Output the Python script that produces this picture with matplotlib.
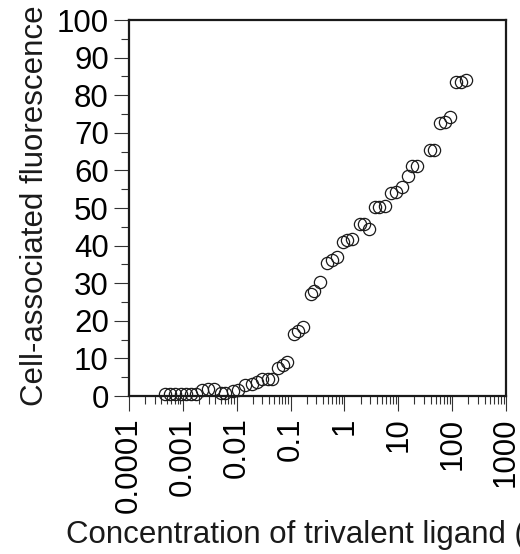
import matplotlib
matplotlib.use("Agg")
import matplotlib.pyplot as plt
from matplotlib.ticker import LogLocator, NullFormatter, MultipleLocator

plt.rcParams['font.family'] = ['Liberation Sans', 'DejaVu Sans']

conc = [4.7e-4, 5.8e-4, 7.1e-4, 9.2e-4, 1.14e-3, 1.41e-3, 1.75e-3, 2.26e-3, 2.92e-3, 3.78e-3,
        5.1e-3, 6.0e-3, 8.5e-3, 1.05e-2, 1.42e-2, 1.91e-2, 2.37e-2, 2.94e-2, 3.79e-2, 4.5e-2,
        5.9e-2, 7.1e-2, 8.65e-2, 0.115, 0.138, 0.171, 0.235, 0.27, 0.35, 0.478,
        0.577, 0.713, 0.946, 1.12, 1.41, 1.93, 2.29, 2.87, 3.66, 4.4,
        5.62, 7.48, 9.26, 11.5, 15.2, 18.3, 22.3, 38.4, 45.6, 58.9,
        72.9, 90.2, 120, 149, 179]
fluor = [0.6, 0.6, 0.6, 0.6, 0.6, 0.6, 0.6, 1.6, 1.8, 1.8,
         0.7, 0.7, 1.4, 1.6, 2.9, 3.2, 3.8, 4.4, 4.4, 4.4,
         7.4, 8.2, 9.1, 16.5, 17.4, 18.4, 27.1, 28.0, 30.4, 35.3,
         36.2, 37.0, 41.0, 41.5, 41.7, 45.7, 45.7, 44.3, 50.3, 50.2,
         50.6, 53.9, 54.3, 55.7, 58.5, 61.2, 61.2, 65.4, 65.4, 72.7,
         73.0, 74.1, 83.6, 83.6, 84.0]
xticks = [0.0001, 0.001, 0.01, 0.1, 1, 10, 100, 1000]
xticklabels = ['0.0001', '0.001', '0.01', '0.1', '1', '10', '100', '1000']
yticks = [0, 10, 20, 30, 40, 50, 60, 70, 80, 90, 100]

FS = 22.5
fig = plt.figure(figsize=(5.2, 5.54), dpi=100)
ax = fig.add_axes([129/520, 1-396/554, (506-129)/520, (396-20)/554])

ax.plot(conc, fluor, linestyle='none', marker='o', markersize=8.8,
        markerfacecolor='none', markeredgecolor='#1a1a1a', markeredgewidth=0.9,
        clip_on=False)

ax.set_xscale('log')
ax.set_xlim(1e-4, 1e3)
ax.set_ylim(0, 100)
ax.set_xticks(xticks)
ax.set_xticklabels(xticklabels, rotation=90, fontsize=FS)
ax.xaxis.set_minor_locator(LogLocator(base=10, subs=range(2, 10), numticks=20))
ax.xaxis.set_minor_formatter(NullFormatter())
ax.set_yticks(yticks)
ax.set_yticklabels([str(v) for v in yticks], fontsize=FS)
ax.yaxis.set_minor_locator(MultipleLocator(5))

ax.tick_params(which='major', direction='out', length=10.5, width=0.8, color='#333333')
ax.tick_params(which='minor', direction='out', length=5.5, width=0.8, color='#333333')
ax.tick_params(axis='x', which='major', pad=5)
ax.tick_params(axis='y', which='major', pad=4)
for s in ax.spines.values():
    s.set_linewidth(1.6)
    s.set_color('#1a1a1a')

fig.text(43/520, 1-206/554, 'Cell-associated fluorescence', fontsize=FS,
         rotation=90, rotation_mode='anchor', ha='center', va='baseline', color='#1a1a1a')
fig.text(66/520, 1-543/554, 'Concentration of trivalent ligand (nM)', fontsize=FS,
         ha='left', va='baseline', color='#1a1a1a')

fig.savefig('out.png', dpi=100)
